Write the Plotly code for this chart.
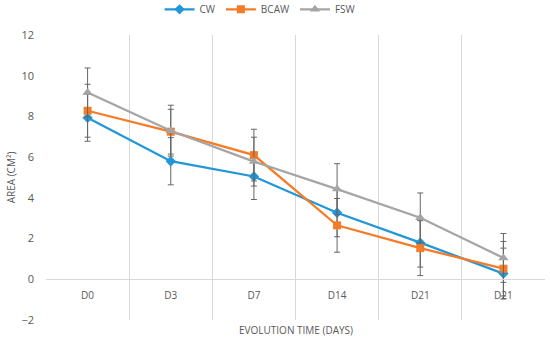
import plotly.graph_objects as go

categories = ["D0", "D3", "D7", "D14", "D21", "D21"]
cw = [7.93, 5.80, 5.05, 3.27, 1.80, 0.28]
cw_err = [1.15, 1.16, 1.13, 1.18, 1.20, 1.25]
bcaw = [8.28, 7.25, 6.10, 2.65, 1.53, 0.52]
bcaw_err = [1.30, 1.10, 1.27, 1.32, 1.35, 1.34]
fsw = [9.18, 7.30, 5.78, 4.43, 3.02, 1.05]
fsw_err = [1.20, 1.25, 1.20, 1.25, 1.22, 1.20]
y_ticks = [-2, 0, 2, 4, 6, 8, 10, 12]

xpos = list(range(len(categories)))
font = "Open Sans, Liberation Sans, sans-serif"
txt = "#595959"

def series(name, y, err, color, symbol, size):
    return go.Scatter(
        x=xpos, y=y, name=name, mode="lines+markers",
        line=dict(color=color, width=2.25),
        marker=dict(symbol=symbol, size=size, color=color),
        error_y=dict(type="data", array=err, visible=True, color="#666666",
                     thickness=1, width=3),
    )

fig = go.Figure()
fig.add_trace(series("CW", cw, cw_err, "#2196D8", "diamond", 8))
fig.add_trace(series("BCAW", bcaw, bcaw_err, "#F57B26", "square", 8))
fig.add_trace(series("FSW", fsw, fsw_err, "#A5A5A5", "triangle-up", 9))

zero_frac = (0 - (-2)) / (12 - (-2))

fig.update_layout(
    width=550, height=341,
    margin=dict(l=46, r=5, t=35, b=21, autoexpand=False),
    paper_bgcolor="white", plot_bgcolor="white",
    font=dict(family=font, size=10, color=txt),
    showlegend=True,
    legend=dict(orientation="h", x=0.43, xanchor="center", y=1.09, yanchor="middle",
                font=dict(size=10, color=txt), itemwidth=30, tracegroupgap=0),
    xaxis=dict(
        range=[-0.5, len(categories) - 0.5], automargin=False,
        tickmode="array", tickvals=xpos, ticktext=categories,
        showgrid=False, ticks="", anchor="free", position=zero_frac,
        showline=True, linecolor="#D9D9D9", linewidth=1,
        tickfont=dict(size=10, color=txt), ticklabelstandoff=7,
        minor=dict(tickmode="linear", tick0=-0.5, dtick=1, showgrid=True,
                   gridcolor="#D9D9D9", gridwidth=1, ticks=""),
        zeroline=False,
    ),
    yaxis=dict(
        range=[-2, 12], tickmode="array", tickvals=y_ticks, automargin=False,
        showgrid=False, zeroline=False, showline=False, ticks="",
        tickfont=dict(size=11, color=txt), ticklabelstandoff=11,
        title=dict(text="AREA (CM²)", font=dict(size=10, color=txt), standoff=3),
    ),
    annotations=[dict(text="EVOLUTION TIME (DAYS)", xref="paper", yref="paper",
                      x=0.5, y=-0.035, xanchor="center", yanchor="middle",
                      showarrow=False, font=dict(size=10, color=txt))],
)

fig.write_html("out.html", config={"displayModeBar": False},
               post_script="document.body.style.margin='0';")
